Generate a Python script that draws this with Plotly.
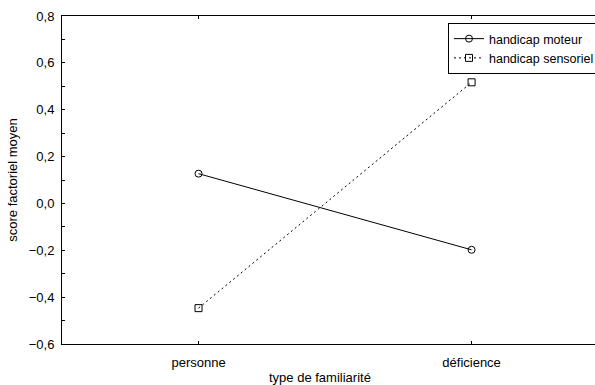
import plotly.graph_objects as go

categories = ["personne", "déficience"]
moteur = [0.127, -0.198]
sensoriel = [-0.447, 0.517]
series_names = ["handicap moteur", "handicap sensoriel"]

W, H = 595, 385
L, R, T, B = 62, 0, 16, 41
xpos = list(range(len(categories)))

fig = go.Figure()
fig.add_trace(go.Scatter(
    x=xpos, y=moteur, name=series_names[0], mode="lines+markers",
    line=dict(color="black", width=1),
    marker=dict(symbol="circle-open", size=7, color="black", line=dict(width=1)),
))
fig.add_trace(go.Scatter(
    x=xpos, y=sensoriel, name=series_names[1], mode="lines+markers",
    line=dict(color="black", width=1, dash="2px,3px"),
    marker=dict(symbol="square-open", size=7, color="black", line=dict(width=1)),
))

font = dict(family="Liberation Sans, Arial, sans-serif", size=13, color="black")
legfont = dict(family="Liberation Sans, Arial, sans-serif", size=12.5, color="black")
fig.update_layout(
    width=W, height=H,
    margin=dict(l=L, r=R, t=T, b=B, autoexpand=False),
    paper_bgcolor="white", plot_bgcolor="white",
    separators=", ",
    font=font,
    showlegend=True,
    legend=dict(x=(448 - L) / (W - L - R), y=(344 - 23) / (H - T - B),
                xanchor="left", yanchor="top",
                bordercolor="black", borderwidth=1, bgcolor="white",
                font=legfont, tracegroupgap=0, itemwidth=30),
    xaxis=dict(
        range=[-0.5, 1.452], tickvals=xpos, ticktext=categories,
        showgrid=False, zeroline=False, showline=True, linecolor="black", linewidth=1,
        mirror="ticks", ticks="inside", ticklen=3, tickcolor="black",
        ticklabelstandoff=6,
    ),
    yaxis=dict(
        range=[-0.6, 0.8], dtick=0.2, tick0=-0.6, tickformat=".1f",
        showgrid=False, zeroline=False, showline=True, linecolor="black", linewidth=1,
        mirror=True, ticks="inside", ticklen=3, tickcolor="black",
        ticklabelstandoff=4,
        minor=dict(dtick=0.1, ticks="inside", ticklen=3, tickcolor="black", showgrid=False),
        title=dict(text="score factoriel moyen", standoff=8, font=font),
    ),
)
fig.add_annotation(text="type de familiarité", xref="paper", yref="paper",
                   x=(320 - L) / (W - L - R), y=-(377 - (H - B)) / (H - T - B),
                   showarrow=False, xanchor="center", yanchor="middle", font=font)
fig.write_html("out.html")
